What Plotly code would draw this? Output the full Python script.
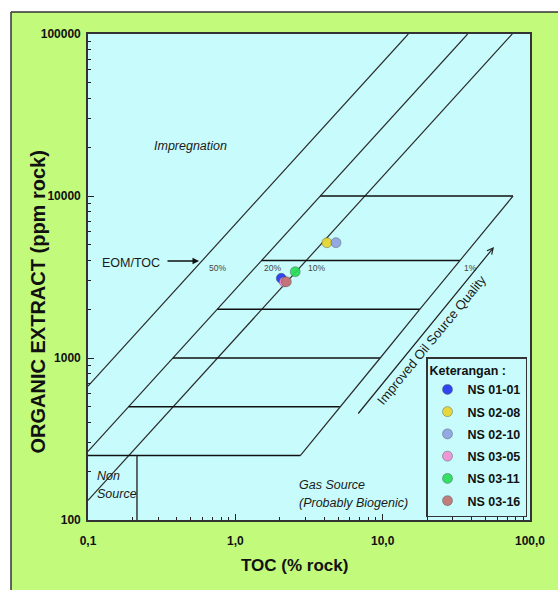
import math
import plotly.graph_objects as go

# ---------------- data ----------------
sample_names = ["NS 01-01", "NS 02-08", "NS 02-10", "NS 03-05", "NS 03-11", "NS 03-16"]
sample_toc = [2.05, 4.18, 4.82, 2.15, 2.55, 2.22]          # TOC (% rock)
sample_eom = [3105, 5150, 5150, 2950, 3410, 2958]          # organic extract (ppm)
sample_colors = ["#2436f0", "#e8d62c", "#8ea2e2", "#f28fd4", "#26de56", "#c27272"]

eom_toc_labels = ["50%", "20%", "10%"]
eom_toc_k = [6700, 2650, 1320]          # ppm extract per % TOC, as drawn

quality_levels_eom = [250, 500, 1000, 2000, 4000, 10000]
quality_levels_toc_end = [2.76, 5.12, 9.62, 17.9, 33.5, 76.7]

nonsource_toc = 0.215
nonsource_eom = 250

x_tickvals = [0.1, 1, 10, 100]
x_ticktext = ["0,1", "1,0", "10,0", "100,0"]
y_tickvals = [100, 1000, 10000, 100000]
y_ticktext = ["100", "1000", "10000", "100000"]

X_MIN, X_MAX = 0.1, 100
Y_MIN, Y_MAX = 100, 100000

F = "Liberation Sans, Arial, sans-serif"
LINE = "#2b2b2b"

fig = go.Figure()

# EOM/TOC ratio lines
for k in eom_toc_k:
    x0 = max(X_MIN, Y_MIN / k)
    x1 = min(X_MAX, Y_MAX / k)
    fig.add_trace(go.Scatter(x=[x0, x1], y=[k * x0, k * x1], mode="lines",
                             line=dict(color=LINE, width=1.2),
                             showlegend=False, hoverinfo="skip"))

# quality horizontals (from 20% line to right edge)
kB = eom_toc_k[1]
for lvl, xend in zip(quality_levels_eom, quality_levels_toc_end):
    xs = max(X_MIN, lvl / kB)
    fig.add_trace(go.Scatter(x=[xs, xend], y=[lvl, lvl], mode="lines",
                             line=dict(color="#111111", width=1.6),
                             showlegend=False, hoverinfo="skip"))

# right edge of the parallelogram
fig.add_trace(go.Scatter(x=quality_levels_toc_end, y=quality_levels_eom, mode="lines",
                         line=dict(color=LINE, width=1.2),
                         showlegend=False, hoverinfo="skip"))

# non-source vertical
fig.add_trace(go.Scatter(x=[nonsource_toc, nonsource_toc], y=[Y_MIN, nonsource_eom], mode="lines",
                         line=dict(color=LINE, width=1.4),
                         showlegend=False, hoverinfo="skip"))

# samples
for i, (n, x, y, c) in enumerate(zip(sample_names, sample_toc, sample_eom, sample_colors)):
    fig.add_trace(go.Scatter(x=[x], y=[y], mode="markers", name=n, legendgroup=str(i),
                             marker=dict(size=10, color=c, opacity=0.92,
                                         line=dict(color="rgba(70,70,70,0.55)", width=0.8))))


def px(p):
    return (p - 88) / 442


def py(p):
    return (520 - p) / 486


ann = []


def txt(x, y, t, size=12.5, italic=False, xanchor="center", yanchor="middle", angle=0, bold=False, color="#1a1a1a"):
    ann.append(dict(x=px(x), y=py(y), xref="paper", yref="paper", text=t, showarrow=False,
                    xanchor=xanchor, yanchor=yanchor, textangle=angle,
                    font=dict(family=F, size=size, color=color,
                              style="italic" if italic else "normal",
                              weight="bold" if bold else "normal")))


txt(190, 146, "Impregnation", italic=True)
txt(100, 263, "EOM/TOC", xanchor="left")
txt(95, 476, "Non", italic=True, xanchor="left")
txt(95, 494, "Source", italic=True, xanchor="left")
txt(297, 485, "Gas Source", italic=True, xanchor="left")
txt(297, 503, "(Probably Biogenic)", italic=True, xanchor="left")
txt(431, 340, "Improved Oil Source Quality", size=13, angle=-50.5)
txt(294, 565, "TOC (% rock)", size=17, bold=True, color="#111")
txt(37.5, 302, "ORGANIC EXTRACT (ppm rock)", size=20, bold=True, angle=-90, color="#111")

# percent labels on the 4000 ppm level
lvl = 4000
shifts = [5, 0, 0]
for lab, k, s in zip(eom_toc_labels, eom_toc_k, shifts):
    ann.append(dict(x=math.log10(lvl / k), y=math.log10(lvl), xref="x", yref="y", text=lab,
                    showarrow=False, xanchor="left", yanchor="top", xshift=s, yshift=-1,
                    font=dict(family=F, size=8.5, color="#444")))
ann.append(dict(x=math.log10(quality_levels_toc_end[4]), y=math.log10(lvl), xref="x", yref="y", text="1%",
                showarrow=False, xanchor="left", yanchor="top", xshift=2, yshift=-1,
                font=dict(family=F, size=8.5, color="#444")))

# arrows
ann.append(dict(x=px(199), y=py(261), xref="paper", yref="paper", text="", showarrow=True,
                ax=-33, ay=0, arrowhead=2, arrowsize=1, arrowwidth=1.3, arrowcolor="#111"))
ann.append(dict(x=px(494), y=py(247), xref="paper", yref="paper", text="", showarrow=True,
                ax=-137, ay=168, arrowhead=5, arrowsize=1, arrowwidth=1.2, arrowcolor="#222"))

shapes = [
    dict(type="rect", xref="paper", yref="paper", x0=px(-5), x1=px(565), y0=py(12), y1=py(-5),
         fillcolor="white", line=dict(width=0), layer="below"),
    dict(type="rect", xref="paper", yref="paper", x0=px(-5), x1=px(11), y0=py(600), y1=py(12),
         fillcolor="white", line=dict(width=0), layer="below"),
    dict(type="line", xref="paper", yref="paper", x0=px(11), x1=px(565), y0=py(12), y1=py(12),
         line=dict(color="#333", width=1.5)),
    dict(type="line", xref="paper", yref="paper", x0=px(11), x1=px(11), y0=py(12), y1=py(600),
         line=dict(color="#333", width=1.5)),
]

minor_x = [m * d for d in [0.1, 1, 10] for m in range(2, 10)]
minor_y = [m * d for d in [100, 1000, 10000] for m in range(2, 10)]

tickfont = dict(family=F, size=12, color="#111", weight="bold")

fig.update_xaxes(type="log", range=[-1, 2], tickmode="array", tickvals=x_tickvals, ticktext=x_ticktext,
                 ticks="inside", ticklen=6, tickcolor="#222", tickwidth=1.2,
                 showline=True, linecolor="#333", linewidth=1.6, mirror=True,
                 showgrid=False, zeroline=False, tickfont=tickfont, ticklabelstandoff=9,
                 minor=dict(tickmode="array", tickvals=minor_x, ticks="inside", ticklen=3,
                            tickcolor="#222", showgrid=False))
fig.update_yaxes(type="log", range=[2, 5], tickmode="array", tickvals=y_tickvals, ticktext=y_ticktext,
                 ticks="inside", ticklen=6, tickcolor="#222", tickwidth=1.2,
                 showline=True, linecolor="#333", linewidth=1.6, mirror=True,
                 showgrid=False, zeroline=False, tickfont=tickfont, ticklabelstandoff=3,
                 minor=dict(tickmode="array", tickvals=minor_y, ticks="inside", ticklen=3,
                            tickcolor="#222", showgrid=False))

fig.update_layout(
    width=558, height=590,
    margin=dict(l=88, r=28, t=34, b=70),
    paper_bgcolor="#c2fa7c", plot_bgcolor="#c8fcfc",
    annotations=ann, shapes=shapes,
    legend=dict(x=px(527), y=py(517), xanchor="right", yanchor="bottom",
                bgcolor="#c8fcfc", bordercolor="#333", borderwidth=1.5,
                font=dict(family=F, size=12.5, weight="bold", color="#111"),
                title=dict(text="Keterangan :", font=dict(family=F, size=12.5, weight="bold", color="#111")),
                tracegroupgap=3, itemwidth=30),
    showlegend=True,
)

fig.write_html("out.html", config={"displayModeBar": False},
               post_script="document.body.style.margin='0';document.body.style.padding='0';"
                           "document.body.style.overflow='hidden';")
